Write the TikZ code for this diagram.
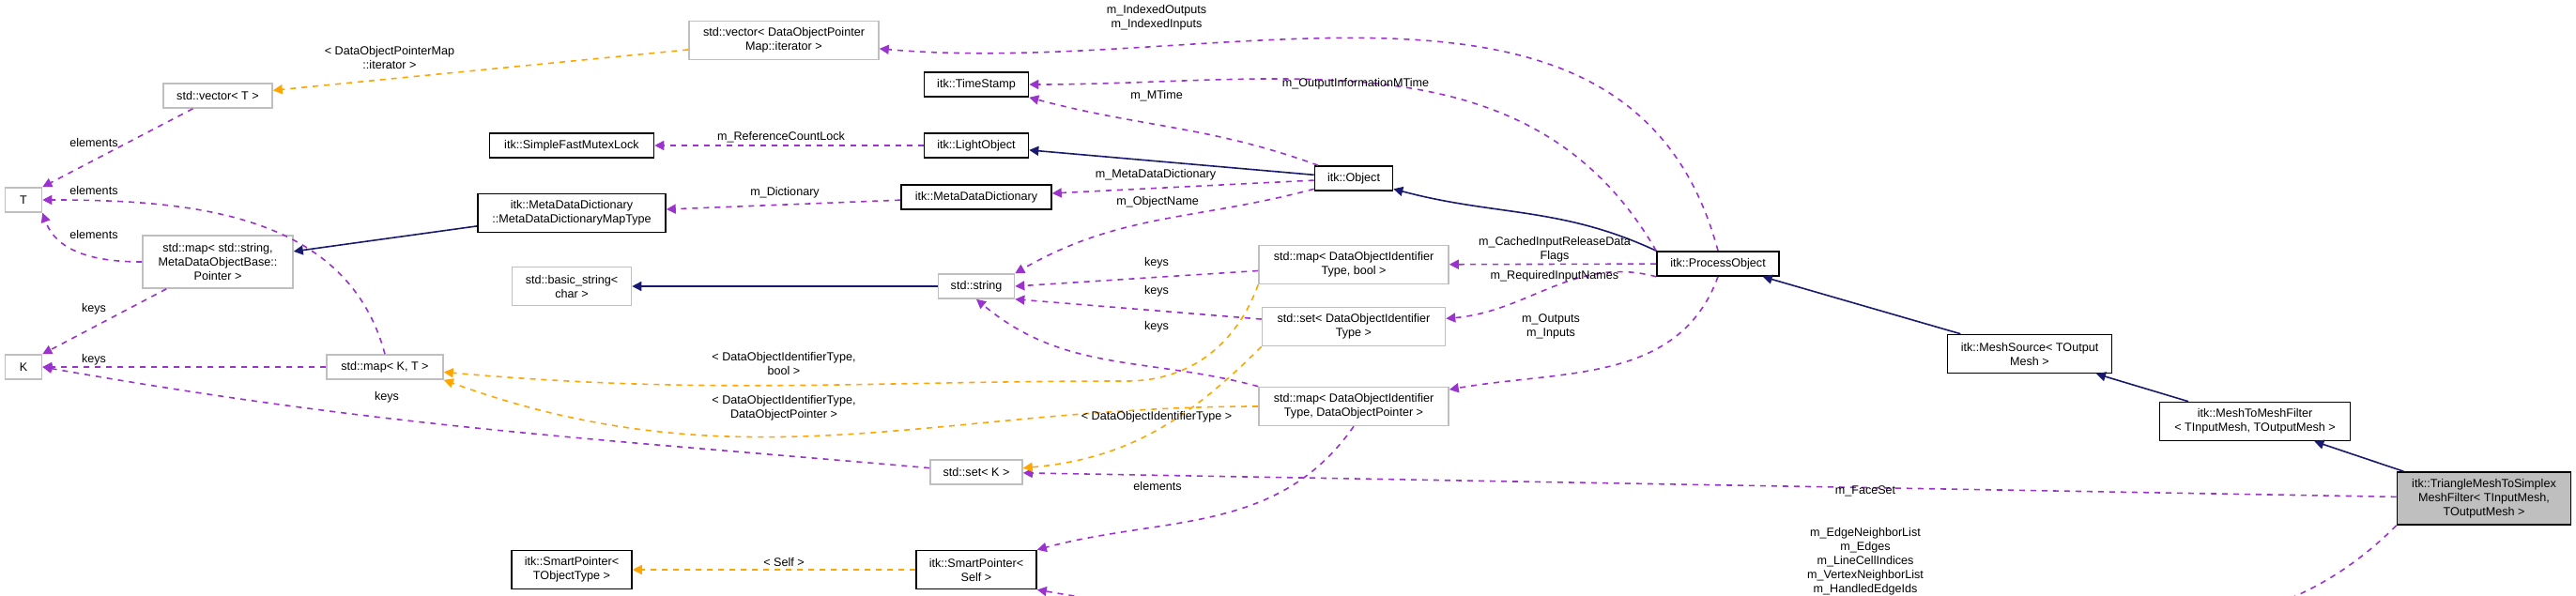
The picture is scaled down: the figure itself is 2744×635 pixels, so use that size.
\documentclass[tikz,border=0pt]{standalone}
\usepackage{fontspec}
\setmainfont{Liberation Sans}
\usetikzlibrary{arrows.meta}
\definecolor{inh}{HTML}{191970}
\definecolor{use}{HTML}{9A32CD}
\definecolor{tpl}{HTML}{FFA500}
\begin{document}
\begin{tikzpicture}[x=0.5pt,y=-0.5pt,
  cls/.style = {draw=black, thick, fill=white, align=center, inner sep=1.5pt, font=\fontsize{6.3}{7.5}\selectfont},
  ext/.style = {cls, draw=black!25},
  me/.style = {cls, fill=black!25},
  lbl/.style = {align=center, inner sep=0pt, font=\fontsize{6.3}{7.5}\selectfont},
  isa/.style = {draw=inh, thick, -{Triangle[length=5pt,width=5pt]}},
  has/.style = {draw=use, thick, dashed, -{Triangle[length=5pt,width=5pt]}},
  tmp/.style = {draw=tpl, thick, dashed, -{Triangle[length=5pt,width=5pt]}}]
\useasboundingbox (0,0) rectangle (2744,635);
% classes
\node[ext, minimum width=19.5pt, minimum height=13pt] (T) at (25,213) {T};
\node[ext, minimum width=19.5pt, minimum height=13pt] (K) at (25,391) {K};
\node[ext, minimum width=58pt, minimum height=13pt] (vecT) at (232,102) {std::vector< T >};
\node[ext, minimum width=80pt, minimum height=28pt] (mapStr) at (232,279) {std::map< std::string,\\MetaDataObjectBase::\\Pointer >};
\node[ext, minimum width=62pt, minimum height=13pt] (mapKT) at (410,391) {std::map< K, T >};
\node[cls, minimum width=87.5pt, minimum height=13pt] (mutex) at (609,155) {itk::SimpleFastMutexLock};
\node[cls, minimum width=100pt, minimum height=20.5pt] (mddMap) at (609,227) {itk::MetaDataDictionary\\::MetaDataDictionaryMapType};
\node[ext, minimum width=63.5pt, minimum height=20.5pt] (bstr) at (609,305) {std::basic\_string<\\char >};
\node[cls, minimum width=64pt, minimum height=20.5pt] (spObj) at (609,607) {itk::SmartPointer<\\TObjectType >};
\node[ext, minimum width=101pt, minimum height=20.5pt] (vecDO) at (835,43) {std::vector< DataObjectPointer\\Map::iterator >};
\node[cls, minimum width=55.5pt, minimum height=13pt] (stamp) at (1040,90) {itk::TimeStamp};
\node[cls, minimum width=55.5pt, minimum height=13pt] (light) at (1040,155) {itk::LightObject};
\node[cls, minimum width=80pt, minimum height=13pt] (mdd) at (1040,210) {itk::MetaDataDictionary};
\node[ext, minimum width=40.5pt, minimum height=13pt] (str) at (1040,305) {std::string};
\node[ext, minimum width=49pt, minimum height=13pt] (setK) at (1040,503) {std::set< K >};
\node[cls, minimum width=64pt, minimum height=20.5pt] (spSelf) at (1040,607) {itk::SmartPointer<\\Self >};
\node[cls, minimum width=41.5pt, minimum height=13pt] (obj) at (1442,190) {itk::Object};
\node[ext, minimum width=101pt, minimum height=20.5pt] (mapBool) at (1442,282) {std::map< DataObjectIdentifier\\Type, bool >};
\node[ext, minimum width=97.5pt, minimum height=20.5pt] (setDO) at (1442,348) {std::set< DataObjectIdentifier\\Type >};
\node[ext, minimum width=101pt, minimum height=20.5pt] (mapPtr) at (1442,433) {std::map< DataObjectIdentifier\\Type, DataObjectPointer >};
\node[cls, minimum width=65pt, minimum height=13pt] (proc) at (1830,281) {itk::ProcessObject};
\node[cls, minimum width=87.5pt, minimum height=20.5pt] (src) at (2162,377) {itk::MeshSource< TOutput\\Mesh >};
\node[cls, minimum width=101.5pt, minimum height=20.5pt] (m2m) at (2402,449) {itk::MeshToMeshFilter\\< TInputMesh, TOutputMesh >};
\node[me, minimum width=92.5pt, minimum height=28pt] (tri) at (2646,531) {itk::TriangleMeshToSimplex\\MeshFilter< TInputMesh,\\TOutputMesh >};
% inheritance
\draw[isa] (tri) -- (m2m);
\draw[isa] (m2m) -- (src);
\draw[isa] (src) -- (proc);
\draw[isa] (proc.north west) to[out=155,in=-15] (obj);
\draw[isa] (obj) -- (light);
\draw[isa] (str) -- (bstr);
\draw[isa] (mddMap) -- (mapStr);
% members
\draw[has] (vecT) -- (T.north east);
\draw[has] (mapKT.north) to[out=105,in=0] (T.east);
\draw[has] (mapStr.west) to[out=180,in=-70] (T.south east);
\draw[has] (mapStr) -- (K.north east);
\draw[has] (mapKT) -- (K);
\draw[has] (setK) to[out=175,in=-10] (K.east);
\draw[has] (light) -- (mutex);
\draw[has] (mdd) -- (mddMap);
\draw[has] (obj) to[out=160,in=-15] (stamp.south east);
\draw[has] (obj) -- (mdd);
\draw[has] (obj) to[out=195,in=30] (str.north east);
\draw[has] (mapBool) -- (str.east);
\draw[has] (setDO) -- (str.south east);
\draw[has] (mapPtr.north west) to[out=165,in=-40] (str.south);
\draw[has] (proc.north) to[out=105,in=-5] (vecDO);
\draw[has] (proc.north west) to[out=120,in=0] (stamp);
\draw[has] (proc) -- (mapBool);
\draw[has] (proc.south west) to[out=165,in=5] (setDO);
\draw[has] (proc.south) to[out=-110,in=10] (mapPtr);
\draw[has] (mapPtr.south) to[out=-125,in=15] (spSelf.north east);
\draw[has] (tri) -- (setK);
\draw[has] (tri.south west) to[out=-135,in=0] (1900,636) to[out=180,in=-10] (spSelf.south east);
% templates
\draw[tmp] (vecDO) -- (vecT);
\draw[tmp] (mapBool.south west) to[out=-110,in=0] (1200,406) to[out=180,in=-5] (mapKT);
\draw[tmp] (mapPtr.west) to[out=180,in=-20] (mapKT.south east);
\draw[tmp] (setDO.south west) to[out=-135,in=5] (setK);
\draw[tmp] (spSelf) -- (spObj);
% labels
\node[lbl] (l1) at (100,152) {elements};
\node[lbl] (l2) at (100,203) {elements};
\node[lbl] (l3) at (100,250) {elements};
\node[lbl] (l4) at (100,329) {keys};
\node[lbl] (l5) at (100,383) {keys};
\node[lbl] (l6) at (412,423) {keys};
\node[lbl] (l7) at (415,62) {< DataObjectPointerMap\\::iterator >};
\node[lbl] (l8) at (832,146) {m\_ReferenceCountLock};
\node[lbl] (l9) at (836,205) {m\_Dictionary};
\node[lbl] (l10) at (835,387) {< DataObjectIdentifierType,\\bool >};
\node[lbl] (l11) at (835,435) {< DataObjectIdentifierType,\\DataObjectPointer >};
\node[lbl] (l12) at (835,599) {< Self >};
\node[lbl] (l13) at (1232,19) {m\_IndexedOutputs\\m\_IndexedInputs};
\node[lbl] (l14) at (1232,102) {m\_MTime};
\node[lbl] (l15) at (1231,186) {m\_MetaDataDictionary};
\node[lbl] (l16) at (1233,215) {m\_ObjectName};
\node[lbl] (l17) at (1232,280) {keys};
\node[lbl] (l18) at (1232,310) {keys};
\node[lbl] (l19) at (1232,348) {keys};
\node[lbl] (l20) at (1232,444) {< DataObjectIdentifierType >};
\node[lbl] (l21) at (1233,518) {elements};
\node[lbl] (l22) at (1444,89) {m\_OutputInformationMTime};
\node[lbl] (l23) at (1656,266) {m\_CachedInputReleaseData\\Flags};
\node[lbl] (l24) at (1656,294) {m\_RequiredInputNames};
\node[lbl] (l25) at (1652,348) {m\_Outputs\\m\_Inputs};
\node[lbl] (l26) at (1987,523) {m\_FaceSet};
\node[lbl] (l27) at (1987,598) {m\_EdgeNeighborList\\m\_Edges\\m\_LineCellIndices\\m\_VertexNeighborList\\m\_HandledEdgeIds};
\end{tikzpicture}
\end{document}
